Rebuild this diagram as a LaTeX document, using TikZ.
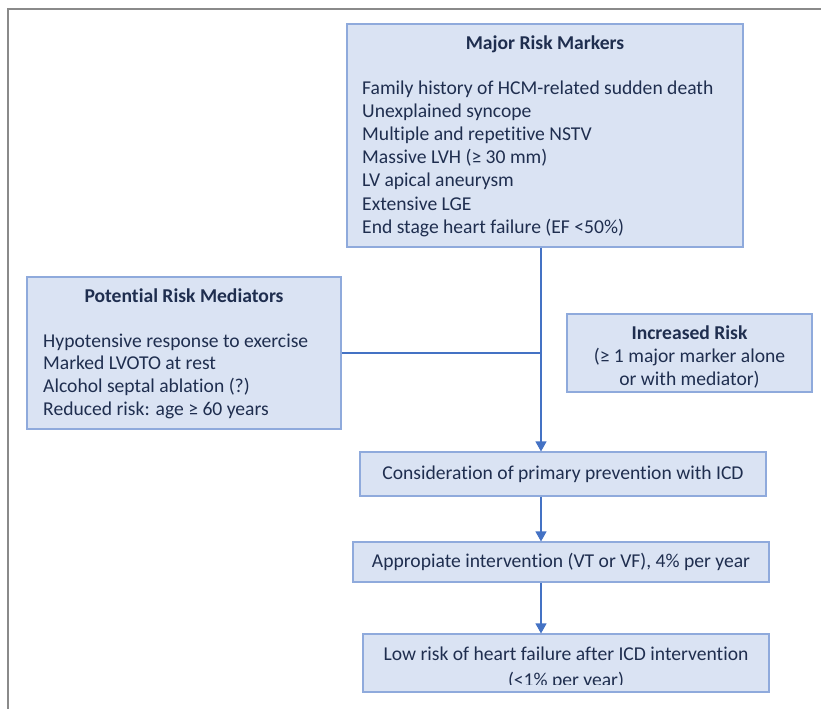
\documentclass[tikz,border=0pt]{standalone}
\usepackage{fontspec}
\setmainfont{Carlito}[Ligatures={NoCommon}]
\usetikzlibrary{arrows.meta}
\definecolor{boxfill}{HTML}{DAE3F3}
\definecolor{boxline}{HTML}{8FAADC}
\definecolor{ink}{HTML}{1F2E4F}
\definecolor{flow}{HTML}{4472C4}
\definecolor{frame}{HTML}{8A8A8A}
\begin{document}
\begin{tikzpicture}[x=1pt,y=-1pt,
  box/.style={draw=boxline, fill=boxfill, line width=1.1pt, rectangle, inner sep=0pt},
  txt/.style={text=ink, inner sep=0pt, font=\fontsize{19.6}{23.2}\selectfont},
  head/.style={txt, font=\fontsize{19.6}{23}\selectfont\bfseries},
  link/.style={draw=flow, line width=1.1pt},
  flowarrow/.style={link, -{Triangle[width=11pt,length=10pt]}}]
\useasboundingbox (0,0) rectangle (821,709);
% outer frame
\draw[frame, line width=1.4pt] (821,9) -- (8,9) -- (8,709);

% boxes
\node[box, minimum width=396pt, minimum height=223pt] (major) at (545,135.5) {};
\node[box, minimum width=314pt, minimum height=152pt] (mediators) at (184,353) {};
\node[box, minimum width=245pt, minimum height=78pt] (increased) at (689.5,353) {};
\node[box, minimum width=406pt, minimum height=44pt] (icd) at (563,474) {};
\node[box, minimum width=416pt, minimum height=40pt] (interv) at (561,562) {};
\node[box, minimum width=406pt, minimum height=58pt] (lowrisk) at (566,663) {};

% texts
\node[head] (majorhead) at (545,44) {Major Risk Markers};
\node[txt, anchor=west, align=left] (majorlist) at (362,158.5) {Family history of HCM-related sudden death\\
Unexplained syncope\\
Multiple and repetitive NSTV\\
Massive LVH (≥ 30 mm)\\
LV apical aneurysm\\
Extensive LGE\\
End stage heart failure (EF <50\%)};

\node[head] (medhead) at (184,296) {Potential Risk Mediators};
\node[txt, anchor=west, align=left, font=\fontsize{19.6}{22.7}\selectfont] (medlist) at (43,376) {Hypotensive response to exercise\\
Marked LVOTO at rest\\
Alcohol septal ablation (?)\\
Reduced risk: age ≥ 60 years};

\node[head] (incrhead) at (689.5,333) {Increased Risk};
\node[txt, align=center] (incrtext) at (689.5,368.5) {(≥ 1 major marker alone\\or with mediator)};

\node[txt] (icdtext) at (563,474) {Consideration of primary prevention with ICD};
\node[txt] (intervtext) at (561,562) {Appropiate intervention (VT or VF), 4\% per year};
% the second line of the last box is cut off along its lower part
\begin{scope}
  \clip (lowrisk.north west) rectangle (lowrisk.east |- 0,684);
  \node[txt, align=center, anchor=base, font=\fontsize{19.6}{26}\selectfont] (lowtext) at (566,686) {Low risk of heart failure after ICD intervention\\(<1\% per year)};
\end{scope}

% connectors
\coordinate (join) at (541,0 |- mediators.east);
\draw[link] (mediators.east) -- (join);
\draw[flowarrow] (major.south -| 541,0) -- (icd.north -| 541,0);
\draw[flowarrow] (icd.south -| 541,0) -- (interv.north -| 541,0);
\draw[flowarrow] (interv.south -| 541,0) -- (lowrisk.north -| 541,0);
\end{tikzpicture}
\end{document}
